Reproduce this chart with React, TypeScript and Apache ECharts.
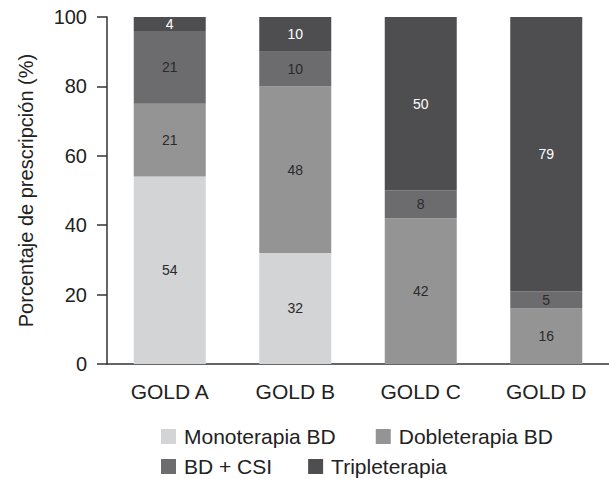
import React, { useEffect, useRef } from "react";
import * as echarts from "echarts";

const categories = ["GOLD A", "GOLD B", "GOLD C", "GOLD D"];
const seriesNames = ["Monoterapia BD", "Dobleterapia BD", "BD + CSI", "Tripleterapia"];
const monoterapia = [54, 32, 0, 0];
const dobleterapia = [21, 48, 42, 16];
const bdCsi = [21, 10, 8, 5];
const tripleterapia = [4, 10, 50, 79];
const yTicks = [0, 20, 40, 60, 80, 100];

const colors = ["#d3d4d6", "#949495", "#6c6c6e", "#4e4e50"];
const labelColors = ["#2a2a2a", "#2a2a2a", "#2a2a2a", "#ffffff"];

export default function App() {
  const ref = useRef<HTMLDivElement>(null);
  useEffect(() => {
    if (!ref.current) return;
    const chart = echarts.init(ref.current, undefined, { renderer: "svg" });
    const values = [monoterapia, dobleterapia, bdCsi, tripleterapia];
    const font = "Liberation Sans, Arial, Helvetica, sans-serif";
    const legendText = {
      fontSize: 21,
      lineHeight: 18,
      color: "#222",
      fontFamily: font,
      padding: [0, 0, 0, 3],
    };
    chart.setOption({
      animation: false,
      textStyle: { fontFamily: font },
      grid: { left: 107, right: 0, top: 17, bottom: 115, containLabel: false },
      legend: [
        {
          data: seriesNames.slice(0, 2),
          left: 156,
          top: 421,
          itemWidth: 15,
          itemHeight: 15,
          itemGap: 40,
          icon: "rect",
          textStyle: legendText,
        },
        {
          data: seriesNames.slice(2, 4),
          left: 156,
          top: 451,
          itemWidth: 15,
          itemHeight: 15,
          itemGap: 36,
          icon: "rect",
          textStyle: legendText,
        },
      ],
      xAxis: {
        type: "category",
        data: categories,
        axisLine: { lineStyle: { color: "#333", width: 1.5 } },
        axisTick: { show: false },
        axisLabel: { fontSize: 21, color: "#222", margin: 17, fontFamily: font },
      },
      yAxis: {
        type: "value",
        min: yTicks[0],
        max: yTicks[yTicks.length - 1],
        interval: 20,
        name: "Porcentaje de prescripción (%)",
        nameLocation: "middle",
        nameGap: 71,
        nameTextStyle: { fontSize: 20, color: "#222", fontFamily: font },
        axisLine: { show: true, lineStyle: { color: "#333", width: 1.5 } },
        axisTick: { show: true, length: 10, lineStyle: { color: "#333", width: 1.5 } },
        axisLabel: { fontSize: 20, color: "#222", margin: 20, fontFamily: font },
        splitLine: { show: false },
      },
      series: seriesNames.map((name, i) => ({
        name,
        type: "bar",
        stack: "total",
        barWidth: 72,
        data: values[i],
        itemStyle: { color: colors[i] },
        label: {
          show: true,
          position: "inside",
          fontSize: 14,
          color: labelColors[i],
          fontFamily: font,
          formatter: (p: any) => (p.value ? String(p.value) : ""),
        },
      })),
    });
    return () => chart.dispose();
  }, []);
  return (
    <div
      ref={ref}
      style={{ position: "fixed", left: 0, top: 0, width: 609, height: 479, background: "#fff" }}
    />
  );
}
